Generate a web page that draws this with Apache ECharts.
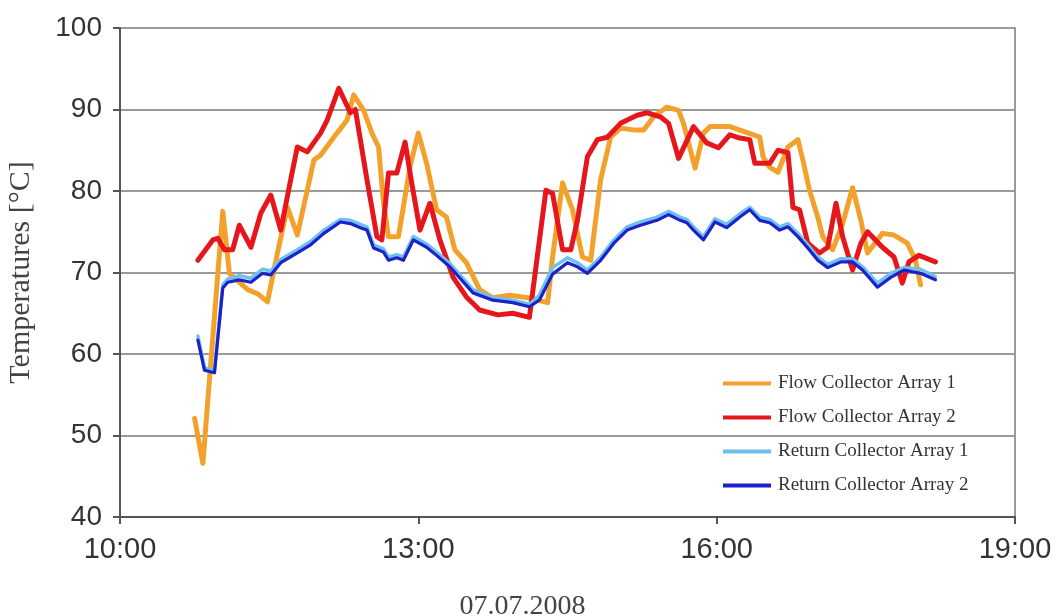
<!DOCTYPE html>
<html>
<head>
<meta charset="utf-8">
<script src="https://cdn.jsdelivr.net/npm/echarts@6/dist/echarts.min.js"></script>
<style>html,body{margin:0;padding:0;background:#fff;}#c{width:1057px;height:616px;}</style>
</head>
<body>
<div id="c"></div>
<script>
// time in minutes after midnight
const flow1Times = [645,650,662,666,677,683,689,695,701,707,717,721,729,737,741,747,752,756,759,762,768,775,780,785,791,797,802,809,817,825,835,846,858,861,867,873,879,884,890,896,902,910,916,922,930,937,940,947,952,956,968,978,986,988,992,997,1003,1009,1012,1016,1021,1024,1030,1036,1042,1047,1051,1060,1067,1075,1080,1083];
const flow1Values = [52.1,46.6,77.5,69.9,67.9,67.4,66.4,72.4,78,74.6,83.8,84.4,86.6,88.7,91.8,89.9,87.1,85.4,78.5,74.4,74.4,83,87.1,83.4,77.7,76.8,72.8,71.2,67.9,66.9,67.2,66.9,66.3,71.9,81,77.7,71.9,71.5,81.4,86.6,87.7,87.5,87.5,89.1,90.3,89.9,88.3,82.8,87.1,87.9,87.9,87.2,86.6,84.2,82.9,82.3,85.4,86.3,83.8,80.1,76.8,74.4,72.8,76,80.4,76.4,72.4,74.8,74.6,73.6,71.5,68.5];

const flow2Times = [647,656,659,663,668,672,679,685,691,697,703,707,713,721,725,732,739,742,749,755,758,762,767,772,776,781,787,793,801,809,817,828,837,847,857,861,867,872,876,882,888,894,902,912,918,926,931,937,946,954,961,968,974,980,983,992,997,1003,1006,1010,1015,1022,1027,1032,1036,1042,1047,1051,1060,1067,1072,1076,1082,1092];
const flow2Values = [71.5,74,74.2,72.8,72.8,75.8,73.1,77.3,79.5,75.2,81.4,85.4,84.8,87.1,88.7,92.6,89.6,90,81.4,74.4,74,82.2,82.2,86,81,75.2,78.5,74,69.4,67,65.4,64.8,65,64.5,80.1,79.7,72.8,72.8,76.4,84.2,86.3,86.6,88.3,89.3,89.6,89.1,88.3,84,87.9,85.9,85.3,86.9,86.5,86.3,83.4,83.4,85,84.7,78,77.7,73.6,72.4,73.1,78.5,74.4,70.3,73.6,75,73.1,71.9,68.7,71.3,72.1,71.3];

const returnTimes = [647,651,657,662,665,672,679,686,691,697,707,715,723,733,739,745,749,753,759,762,767,771,777,785,791,799,813,825,837,847,853,861,870,876,882,890,898,906,914,924,931,938,942,946,952,959,966,974,980,986,992,998,1003,1009,1015,1021,1027,1035,1042,1048,1057,1065,1073,1083,1092];
const return1Values = [62.2,58.3,58.0,68.5,69.2,69.6,69.3,70.4,70.2,71.6,72.8,73.8,75.2,76.5,76.4,75.9,75.6,73.4,72.9,71.9,72.2,71.9,74.4,73.5,72.5,71.1,67.9,66.9,66.6,66.1,67.2,70.6,71.8,71.2,70.3,71.9,74.0,75.6,76.2,76.8,77.5,76.8,76.5,75.6,74.4,76.6,75.9,77.2,78.0,76.8,76.5,75.6,76.0,74.8,73.4,71.9,71.0,71.7,71.7,70.7,68.7,69.9,70.6,70.4,69.5];
const return2Values = [61.7,58,57.7,68.1,68.8,69.1,68.8,69.9,69.7,71.2,72.4,73.4,74.8,76.2,76,75.5,75.2,73,72.5,71.5,71.8,71.5,74,73.1,72.1,70.7,67.5,66.6,66.3,65.8,66.6,69.8,71.2,70.7,69.9,71.5,73.6,75.2,75.8,76.4,77.1,76.4,76.1,75.2,74,76.2,75.5,76.8,77.7,76.4,76.1,75.2,75.6,74.4,73,71.5,70.6,71.3,71.3,70.3,68.2,69.4,70.3,69.9,69.1];

const seriesNames = ['Flow Collector Array 1','Flow Collector Array 2','Return Collector Array 1','Return Collector Array 2'];
const xTicks = [600, 780, 960, 1140];
const yTitle = 'Temperatures [°C]';
const xTitle = '07.07.2008';

const pair = (ts, vs) => ts.map((t, i) => [t, vs[i]]);
const colors = ['#F2A22C', '#E5161C', '#6EC0F0', '#1C22C8'];

const chart = echarts.init(document.getElementById('c'), null, {renderer: 'canvas'});
const mk = (name, data, color, width, z) => ({
  name, type: 'line', data, showSymbol: false, symbol: 'none', z,
  lineStyle: {color, width, join: 'round', cap: 'round'}, itemStyle: {color}
});
chart.setOption({
  animation: false,
  backgroundColor: '#fff',
  grid: {left: 120, right: 42, top: 28, bottom: 99, show: true, borderColor: '#9a9a9a', borderWidth: 2, containLabel: false, outerBoundsMode: 'none'},
  xAxis: {
    type: 'value', min: 600, max: 1140, interval: 180,
    name: xTitle, nameLocation: 'middle', nameGap: 76,
    nameTextStyle: {fontFamily: 'Liberation Serif', fontSize: 28, color: '#444', padding: [0, 90, 0, 0]},
    axisLine: {show: true, onZero: false, lineStyle: {color: '#555', width: 2}},
    axisTick: {show: true, length: 7, lineStyle: {color: '#555', width: 2}},
    axisLabel: {fontFamily: 'Liberation Sans', fontSize: 29, color: '#333', margin: 18,
      formatter: v => String(Math.floor(v / 60)) + ':00'},
    splitLine: {show: false}
  },
  yAxis: {
    type: 'value', min: 40, max: 100, interval: 10,
    name: yTitle, nameLocation: 'middle', nameGap: 84, nameRotate: 90,
    nameTextStyle: {fontFamily: 'Liberation Serif', fontSize: 30, color: '#444'},
    axisLine: {show: true, lineStyle: {color: '#555', width: 2}},
    axisTick: {show: true, length: 7, lineStyle: {color: '#555', width: 2}},
    axisLabel: {fontFamily: 'Liberation Sans', fontSize: 28, color: '#333', margin: 18},
    splitLine: {show: true, lineStyle: {color: '#9a9a9a', width: 2}}
  },
  legend: {
    orient: 'vertical', left: 718, top: 369, itemWidth: 48, itemHeight: 4, itemGap: 15,
    icon: 'rect', data: seriesNames,
    textStyle: {fontFamily: 'Liberation Serif', fontSize: 19, color: '#333', padding: [0, 0, 0, 2]}
  },
  series: [
    mk(seriesNames[0], pair(flow1Times, flow1Values), colors[0], 5, 2),
    mk(seriesNames[1], pair(flow2Times, flow2Values), colors[1], 5, 3),
    mk(seriesNames[2], pair(returnTimes, return1Values), colors[2], 3.5, 4),
    mk(seriesNames[3], pair(returnTimes, return2Values), colors[3], 3.2, 5)
  ]
});
</script>
</body>
</html>
